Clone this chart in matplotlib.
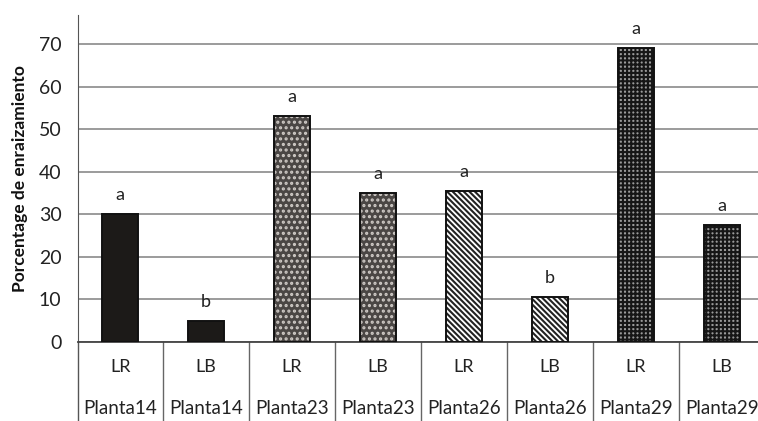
import numpy as np
import matplotlib.pyplot as plt

plt.rcParams['font.family'] = ['Lato', 'DejaVu Sans']
plt.rcParams['hatch.linewidth'] = 1.5

# datos de enraizamiento por planta y tipo de lámina
tipos = ["LR", "LB", "LR", "LB", "LR", "LB", "LR", "LB"]
plantas = ["Planta14", "Planta14", "Planta23", "Planta23",
           "Planta26", "Planta26", "Planta29", "Planta29"]
porcentaje = [30, 5, 53, 35, 35.5, 10.5, 69, 27.5]
letras = ["a", "b", "a", "a", "a", "b", "a", "a"]

# relleno de cada barra: (color de fondo, color de trama, trama)
estilos = [
    ("#1c1a18", "#1c1a18", None),
    ("#1c1a18", "#1c1a18", None),
    ("#4a4644", "#cfcac6", "..."),
    ("#4a4644", "#cfcac6", "..."),
    ("white", "#222222", "\\" * 6),
    ("white", "#222222", "\\" * 6),
    ("#9a9a9a", "#161616", "++++"),
    ("#9a9a9a", "#161616", "++++"),
]

fig = plt.figure(figsize=(7.58, 4.21), dpi=100)
ax = fig.add_axes([0.103, 0.1876, 0.897, 0.7768])

x = np.arange(len(porcentaje))
for xi, val, (fc, hc, hatch) in zip(x, porcentaje, estilos):
    ax.bar(xi, val, width=0.42, color=fc, edgecolor=hc, hatch=hatch,
           linewidth=0, zorder=3)
    ax.bar(xi, val, width=0.42, fill=False, edgecolor="#111111",
           linewidth=1.4, zorder=4)

for xi, val, l in zip(x, porcentaje, letras):
    ax.text(xi, val + 2.6, l, ha="center", va="bottom", fontsize=13,
            color="#222222")

ax.set_xlim(-0.49, 7.42)
ax.set_ylim(0, 76.8)
ax.set_yticks(range(0, 80, 10))
ax.yaxis.grid(True, color="#8a8a8a", linewidth=1.2, zorder=0)
ax.set_axisbelow(True)
ax.tick_params(axis="y", length=0, labelsize=14, pad=12, colors="#222222")
ax.tick_params(axis="x", length=0, labelbottom=False)
for s in ["top", "right"]:
    ax.spines[s].set_visible(False)
ax.spines["left"].set_color("#555555")
ax.spines["bottom"].set_color("#444444")
ax.spines["bottom"].set_linewidth(1.3)
ax.set_ylabel("Porcentage de enraizamiento", fontsize=12.5,
              fontweight="bold", labelpad=8, color="#111111")

# tabla de categorías bajo el eje
ax.plot([-0.49, -0.49], [0, -20], color="#555555", lw=1.0, clip_on=False)
for b in np.arange(0.5, 7.5, 1):
    ax.plot([b, b], [0, -20], color="#666666", lw=1.0, clip_on=False)
for xi, t, p in zip(x, tipos, plantas):
    ax.text(xi, -5.9, t, ha="center", va="center", fontsize=13,
            color="#222222", clip_on=False)
    ax.text(xi, -15.5, p, ha="center", va="center", fontsize=13.5,
            color="#222222", clip_on=False)

fig.savefig("out.png", dpi=100)
